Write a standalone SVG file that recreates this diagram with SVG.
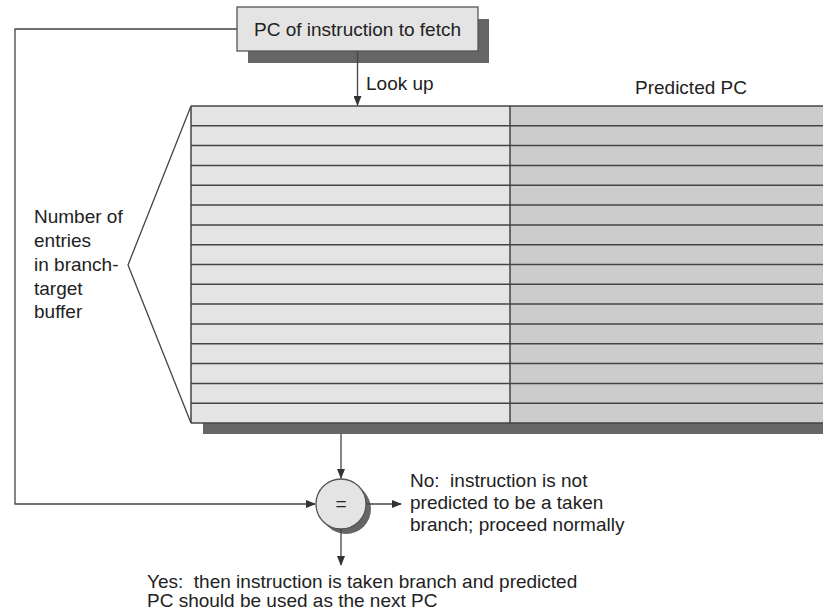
<svg xmlns="http://www.w3.org/2000/svg" width="823" height="615" viewBox="0 0 823 615">
<defs>
<marker id="ah" markerWidth="10" markerHeight="8" refX="9" refY="4" orient="auto" markerUnits="userSpaceOnUse">
<path d="M0,0 L10,4 L0,8 z" fill="#333"/>
</marker>
<style>
text{font-family:"Liberation Sans",Arial,sans-serif;font-size:19px;fill:#222;white-space:pre}
.ln{stroke:#444;stroke-width:1.3;fill:none}
.row{stroke:#444;stroke-width:1.5}
.sh{fill:#666}
</style>
</defs>
<rect width="823" height="615" fill="#fff"/>
<g id="pc-box">
<rect class="sh" x="248" y="19" width="241" height="44"/>
<rect x="237" y="7" width="241" height="44" fill="#e4e4e4" stroke="#555" stroke-width="1.3"/>
<text x="357.5" y="36" text-anchor="middle">PC of instruction to fetch</text>
</g>
<g id="btb">
<rect class="sh" x="203" y="423" width="620" height="11"/>
<rect x="191" y="106" width="319" height="317" fill="#e4e4e4"/>
<rect x="510" y="106" width="313" height="317" fill="#cccccc"/>
<g class="row">
<line x1="191" y1="106" x2="823" y2="106"/>
<line x1="191" y1="125.8" x2="823" y2="125.8"/>
<line x1="191" y1="145.6" x2="823" y2="145.6"/>
<line x1="191" y1="165.4" x2="823" y2="165.4"/>
<line x1="191" y1="185.3" x2="823" y2="185.3"/>
<line x1="191" y1="205.1" x2="823" y2="205.1"/>
<line x1="191" y1="224.9" x2="823" y2="224.9"/>
<line x1="191" y1="244.7" x2="823" y2="244.7"/>
<line x1="191" y1="264.5" x2="823" y2="264.5"/>
<line x1="191" y1="284.3" x2="823" y2="284.3"/>
<line x1="191" y1="304.1" x2="823" y2="304.1"/>
<line x1="191" y1="323.9" x2="823" y2="323.9"/>
<line x1="191" y1="343.8" x2="823" y2="343.8"/>
<line x1="191" y1="363.6" x2="823" y2="363.6"/>
<line x1="191" y1="383.4" x2="823" y2="383.4"/>
<line x1="191" y1="403.2" x2="823" y2="403.2"/>
<line x1="191" y1="423" x2="823" y2="423"/>
<line x1="191" y1="106" x2="191" y2="423"/>
<line x1="510" y1="106" x2="510" y2="423"/>
</g>
<text x="691" y="94" text-anchor="middle">Predicted PC</text>
</g>
<g id="bracket">
<polyline class="ln" points="191,106 128,265 191,423"/>
<text x="34" y="223">Number of</text>
<text x="34" y="247">entries</text>
<text x="34" y="271">in branch-</text>
<text x="34" y="295">target</text>
<text x="34" y="318">buffer</text>
</g>
<g id="compare">
<circle cx="346" cy="509" r="25" fill="#666"/>
<circle cx="341" cy="504" r="25" fill="#e4e4e4" stroke="#555" stroke-width="1.3"/>
<text x="341" y="510" text-anchor="middle" font-size="16">=</text>
</g>
<g id="connectors">
<line class="ln" x1="357.5" y1="51" x2="357.5" y2="105" marker-end="url(#ah)"/>
<polyline class="ln" points="237,29 15,29 15,504 315,504" marker-end="url(#ah)"/>
<line class="ln" x1="341" y1="434" x2="341" y2="478" marker-end="url(#ah)"/>
<line class="ln" x1="366" y1="504" x2="401" y2="504" marker-end="url(#ah)"/>
<line class="ln" x1="341" y1="529" x2="341" y2="565" marker-end="url(#ah)"/>
</g>
<g id="labels">
<text x="366" y="90">Look up</text>
<text x="410" y="487">No:  instruction is not</text>
<text x="410" y="509">predicted to be a taken</text>
<text x="410" y="531">branch; proceed normally</text>
<text x="147" y="588">Yes:  then instruction is taken branch and predicted</text>
<text x="147" y="607">PC should be used as the next PC</text>
</g>
</svg>
